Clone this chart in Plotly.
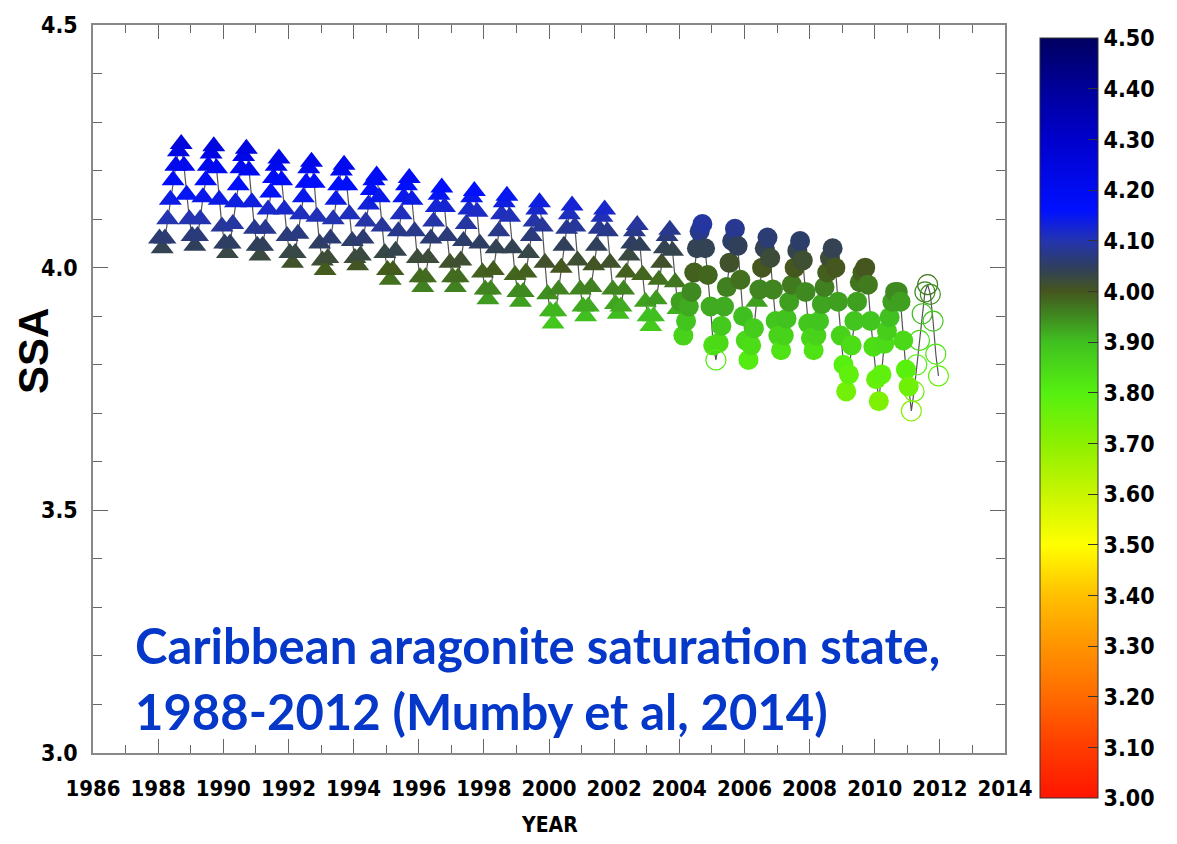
import plotly.graph_objects as go

# ---------------- data (monthly SSA, Jan..Dec) ----------------
years = list(range(1988, 2012))
ssa_1988 = [4.06, 4.04, 4.06, 4.10, 4.14, 4.18, 4.21, 4.24, 4.255, 4.21, 4.15, 4.10]
ssa_1989 = [4.065, 4.045, 4.065, 4.10, 4.145, 4.18, 4.21, 4.235, 4.25, 4.205, 4.14, 4.085]
ssa_1990 = [4.05, 4.03, 4.05, 4.09, 4.135, 4.17, 4.205, 4.23, 4.245, 4.20, 4.135, 4.08]
ssa_1991 = [4.045, 4.025, 4.045, 4.08, 4.12, 4.155, 4.185, 4.21, 4.225, 4.18, 4.12, 4.065]
ssa_1992 = [4.03, 4.01, 4.03, 4.07, 4.11, 4.145, 4.175, 4.205, 4.218, 4.175, 4.105, 4.05]
ssa_1993 = [4.015, 3.995, 4.02, 4.06, 4.10, 4.14, 4.17, 4.20, 4.212, 4.17, 4.11, 4.055]
ssa_1994 = [4.02, 4.005, 4.025, 4.06, 4.095, 4.13, 4.16, 4.18, 4.19, 4.145, 4.085, 4.03]
ssa_1995 = [3.995, 3.975, 3.995, 4.035, 4.075, 4.11, 4.145, 4.17, 4.185, 4.14, 4.075, 4.02]
ssa_1996 = [3.98, 3.96, 3.98, 4.02, 4.06, 4.095, 4.125, 4.15, 4.165, 4.125, 4.065, 4.01]
ssa_1997 = [3.98, 3.96, 3.98, 4.015, 4.055, 4.09, 4.12, 4.145, 4.158, 4.115, 4.05, 3.99]
ssa_1998 = [3.955, 3.935, 3.955, 3.995, 4.04, 4.075, 4.11, 4.135, 4.148, 4.105, 4.04, 3.985]
ssa_1999 = [3.95, 3.93, 3.95, 3.99, 4.03, 4.065, 4.095, 4.12, 4.135, 4.085, 4.01, 3.945]
ssa_2000 = [3.91, 3.885, 3.91, 3.955, 4.0, 4.045, 4.08, 4.11, 4.128, 4.085, 4.015, 3.955]
ssa_2001 = [3.92, 3.90, 3.92, 3.96, 4.005, 4.045, 4.08, 4.105, 4.12, 4.075, 4.01, 3.955]
ssa_2002 = [3.925, 3.905, 3.92, 3.955, 3.99, 4.025, 4.05, 4.075, 4.088, 4.045, 3.985, 3.93]
ssa_2003 = [3.90, 3.88, 3.90, 3.935, 3.975, 4.01, 4.04, 4.065, 4.078, 4.035, 3.97, 3.915]
ssa_2004 = [3.93, 3.86, 3.89, 3.92, 3.95, 3.99, 4.04, 4.075, 4.09, 4.04, 3.985, 3.92]
ssa_2005 = [3.84, 3.81, 3.845, 3.88, 3.92, 3.96, 4.01, 4.055, 4.08, 4.045, 3.975, 3.90]
ssa_2006 = [3.85, 3.81, 3.84, 3.875, 3.93, 3.955, 4.0, 4.04, 4.062, 4.02, 3.955, 3.89]
ssa_2007 = [3.86, 3.83, 3.86, 3.895, 3.93, 3.965, 4.0, 4.035, 4.055, 4.015, 3.95, 3.885]
ssa_2008 = [3.855, 3.83, 3.86, 3.89, 3.925, 3.96, 3.99, 4.02, 4.04, 4.0, 3.93, 3.86]
ssa_2009 = [3.80, 3.745, 3.78, 3.84, 3.89, 3.93, 3.97, 3.99, 4.0, 3.965, 3.89, 3.837]
ssa_2010 = [3.77, 3.725, 3.78, 3.843, 3.87, 3.898, 3.93, 3.95, 3.95, 3.93, 3.85, 3.79]
ssa_2011 = [3.755, 3.705, 3.745, 3.80, 3.85, 3.905, 3.95, 3.965, 3.945, 3.89, 3.822, 3.777]

ssa_by_year = [ssa_1988, ssa_1989, ssa_1990, ssa_1991, ssa_1992, ssa_1993, ssa_1994,
               ssa_1995, ssa_1996, ssa_1997, ssa_1998, ssa_1999, ssa_2000, ssa_2001,
               ssa_2002, ssa_2003, ssa_2004, ssa_2005, ssa_2006, ssa_2007, ssa_2008,
               ssa_2009, ssa_2010, ssa_2011]

# symbol groups (year, month)
circle_from_year = 2004
open_points = [(2005, 2)] + [(2011, m) for m in range(2, 13)]
triangle_points = [(2006, 5)]

x_ticks = list(range(1986, 2015, 2))
y_ticks = [3.0, 3.5, 4.0, 4.5]
cbar_ticks = [3.0, 3.1, 3.2, 3.3, 3.4, 3.5, 3.6, 3.7, 3.8, 3.9, 4.0, 4.1, 4.2, 4.3, 4.4, 4.5]

# ---------------- build series ----------------
all_x, all_y = [], []
groups = {"tri": ([], []), "circ": ([], []), "open": ([], [])}
for yr, vals in zip(years, ssa_by_year):
    for m, v in enumerate(vals, start=1):
        xv = yr + (m - 0.5) / 12.0
        all_x.append(xv)
        all_y.append(v)
        if (yr, m) in open_points:
            g = "open"
        elif (yr, m) in triangle_points or yr < circle_from_year:
            g = "tri"
        else:
            g = "circ"
        groups[g][0].append(xv)
        groups[g][1].append(v)

colorscale = [
    [0.0, "#ff1500"], [0.0667, "#ff3c00"], [0.1333, "#ff6a00"], [0.2, "#ff9400"],
    [0.2667, "#ffc000"], [0.3333, "#ffff00"], [0.4, "#c8f500"], [0.4667, "#8cf000"],
    [0.5333, "#55f010"], [0.6, "#40c020"], [0.6333, "#3f8a20"], [0.6667, "#45561e"],
    [0.7, "#2e3e62"], [0.7333, "#2434b0"], [0.7733, "#0010ff"], [0.8667, "#0000cc"],
    [0.9333, "#00009a"], [1.0, "#000060"],
]

fig = go.Figure()
fig.add_trace(go.Scatter(x=all_x, y=all_y, mode="lines",
                         line=dict(color="#555555", width=1.2), hoverinfo="skip",
                         showlegend=False))
fig.add_trace(go.Scatter(x=groups["tri"][0], y=groups["tri"][1], mode="markers",
                         marker=dict(symbol="triangle-up", size=20, color=groups["tri"][1],
                                     coloraxis="coloraxis", line=dict(width=0)),
                         showlegend=False))
fig.add_trace(go.Scatter(x=groups["circ"][0], y=groups["circ"][1], mode="markers",
                         marker=dict(symbol="circle", size=20, color=groups["circ"][1],
                                     coloraxis="coloraxis", line=dict(width=0)),
                         showlegend=False))
fig.add_trace(go.Scatter(x=groups["open"][0], y=groups["open"][1], mode="markers",
                         marker=dict(symbol="circle-open", size=20, color=groups["open"][1],
                                     coloraxis="coloraxis", line=dict(width=1.2)),
                         showlegend=False))

narrow = "Liberation Sans Narrow, Arial Narrow, DejaVu Sans Condensed, sans-serif"
axis_common = dict(showline=True, linecolor="#888888", linewidth=1.5, mirror="ticks",
                   ticks="inside", tickcolor="#666666", tickwidth=1.3, showgrid=False,
                   zeroline=False)

fig.update_layout(
    width=1177, height=844,
    margin=dict(l=93, r=165, t=18, b=91),
    paper_bgcolor="white", plot_bgcolor="white",
    xaxis=dict(range=[1986, 2014], tickvals=x_ticks, ticklen=14,
               minor=dict(dtick=1, ticklen=8, ticks="inside", tickcolor="#666666"),
               tickfont=dict(family=narrow, size=22, color="black", weight="bold"),
               ticklabelstandoff=15, **axis_common),
    yaxis=dict(range=[3.0, 4.5], tickvals=y_ticks, tickformat=".1f", ticklen=15,
               minor=dict(dtick=0.1, ticklen=9, ticks="inside", tickcolor="#666666"),
               tickfont=dict(family=narrow, size=23, color="black", weight="bold"),
               ticklabelstandoff=9, **axis_common),
    coloraxis=dict(
        cmin=3.0, cmax=4.5, colorscale=colorscale,
        colorbar=dict(
            x=1.038, xanchor="left", xref="paper",
            y=0.46, yanchor="middle", len=760, lenmode="pixels",
            thickness=58, ypad=0, xpad=0,
            outlinewidth=1, outlinecolor="#333333",
            tickvals=cbar_ticks, tickformat=".2f",
            ticks="inside", ticklen=10, tickcolor="#333333",
            tickfont=dict(family="DejaVu Sans Condensed, DejaVu Sans, sans-serif",
                          size=23, color="black", weight="bold"),
        ),
    ),
    annotations=[
        dict(text="Caribbean aragonite saturation state,", xref="paper", yref="paper",
             x=0.0435, y=0.149, xanchor="left", yanchor="middle", showarrow=False,
             font=dict(family="Lato, Open Sans, sans-serif", size=49, color="#0537c9",
                       weight="bold")),
        dict(text="1988-2012 (Mumby et al, 2014)", xref="paper", yref="paper",
             x=0.0435, y=0.0575, xanchor="left", yanchor="middle", showarrow=False,
             font=dict(family="Lato, Open Sans, sans-serif", size=49, color="#0537c9",
                       weight="bold")),
        dict(text="YEAR", xref="paper", yref="paper", x=0.5005, y=-0.0993,
             xanchor="center", yanchor="middle", showarrow=False,
             font=dict(family=narrow, size=21, color="black", weight="bold")),
        dict(text="SSA", xref="paper", yref="paper", x=-0.066, y=0.552,
             xanchor="center", yanchor="middle", showarrow=False, textangle=-90,
             font=dict(family="Liberation Sans, Arial, sans-serif", size=42,
                       color="black", weight="bold")),
    ],
)

fig.write_html("out.html")
